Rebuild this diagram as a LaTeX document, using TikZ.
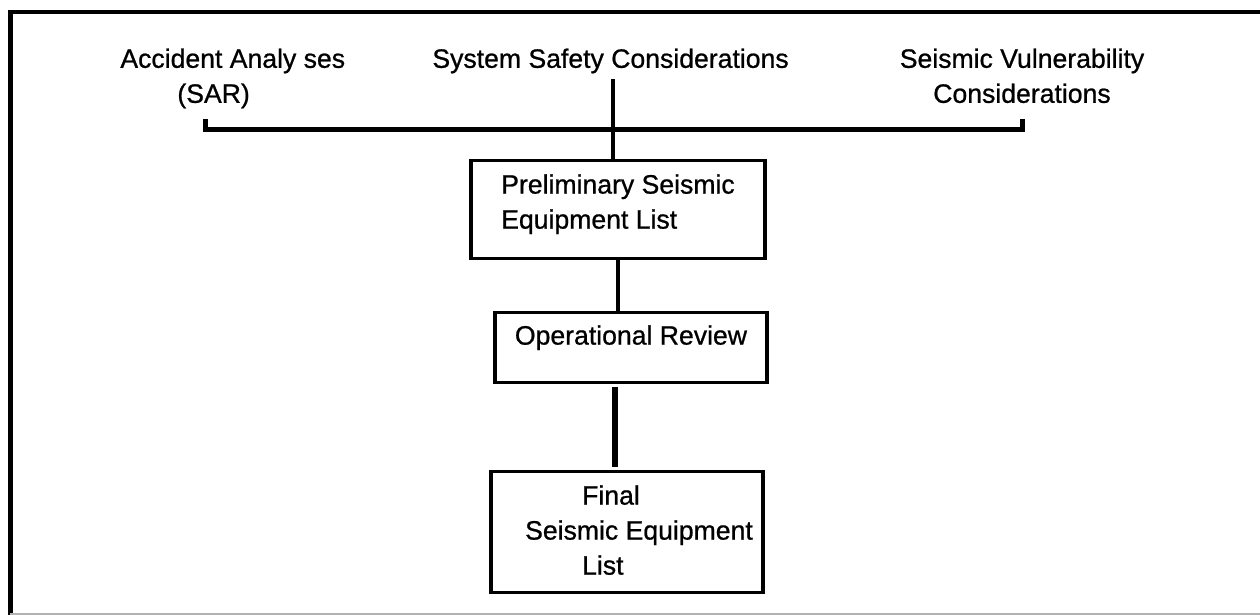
\documentclass[tikz,border=0pt]{standalone}
\usepackage{fontspec}
\setmainfont{Liberation Sans}[FakeBold=0.8]
\usepackage{tikz}
\tikzstyle{box} = [draw, line width=1.6pt, inner xsep=0pt, inner ysep=0pt,
    align=left, anchor=north]
\tikzstyle{head} = [inner sep=0pt, text height=9.7pt]
\tikzset{link/.style={line width=2pt}}

\begin{document}
\begin{tikzpicture}[x=0.5pt, y=-0.5pt, font=\fontsize{13.3}{17.5}\selectfont]
\useasboundingbox (0,0) rectangle (1260,615);
\begin{scope}
    %frame
    \draw[line width=2pt] (8,12) -- (1260,12);
    \draw[line width=2.5pt] (10.5,11) -- (10.5,615);
    \draw[gray!60, line width=0.6pt] (10,614) -- (1260,614);
    %sources
    \node[head, text height=27.2pt, anchor=north west, align=left] (acc) at (120,48)
        {Accident Analy ses\\\hspace*{28.5pt}(SAR)};
    \node[head, anchor=north west] (sys) at (432,48) {System Safety Considerations};
    \node[head, text height=27.2pt, anchor=north, align=center] (vul) at (1022,48)
        {Seismic Vulnerability\\Considerations};
    %boxes
    \node[box, minimum width=147pt, text height=34pt, text depth=15pt] (prelim) at (618,159)
        {Preliminary Seismic\\Equipment List};
    \node[box, minimum width=136pt, text height=16pt, text depth=19pt] (review) at (631,311)
        {Operational Review};
    \node[box, minimum width=136pt, text height=51.5pt, text depth=9pt] (final) at (627,470)
        {\hspace*{40.5pt}Final\\\hspace*{12pt}Seismic Equipment\\\hspace*{40.5pt}List};
    %links
    \coordinate (barl) at (205,129.5);
    \coordinate (barr) at (1022,129.5);
    \draw[link, line width=2.5pt] ([yshift=5pt]barl) -- (barl) -- (barr) -- ([yshift=5pt]barr);
    \coordinate (drop) at ([xshift=-2.5pt]prelim.north);
    \draw[link, shorten >=2.5pt] (drop) -- (drop |- sys.south);
    \draw[link, line width=1.8pt] (prelim.south) -- (prelim.south |- review.north);
    \coordinate (feed) at ([xshift=-6pt]final.north);
    \draw[link, line width=3pt, shorten <=1.5pt, shorten >=1.5pt] (feed) -- (feed |- review.south);
\end{scope}
\end{tikzpicture}
\end{document}
